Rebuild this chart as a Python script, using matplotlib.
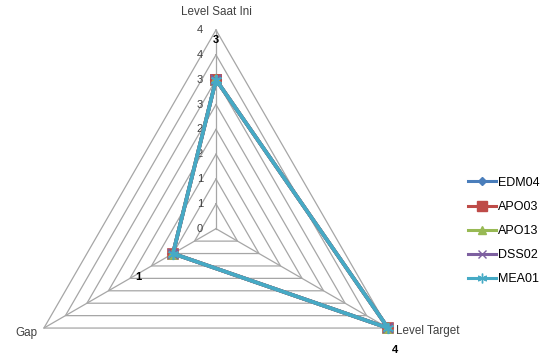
import numpy as np
import matplotlib
matplotlib.use("Agg")
import matplotlib.pyplot as plt
from matplotlib.lines import Line2D

plt.rcParams['font.family'] = ['Liberation Sans', 'DejaVu Sans']

# Radar axes and values
axes_labels = ["Level Saat Ini", "Level Target", "Gap"]
series_names = ["EDM04", "APO03", "APO13", "DSS02", "MEA01"]
edm04 = [3, 4, 1]
apo03 = [3, 4, 1]
apo13 = [3, 4, 1]
dss02 = [3, 4, 1]
mea01 = [3, 4, 1]
ring_levels = [0.5, 1.0, 1.5, 2.0, 2.5, 3.0, 3.5, 4.0]
tick_values = [0, 0.5, 1.0, 1.5, 2.0, 2.5, 3.0, 3.5, 4.0]
tick_labels = ["0", "1", "1", "2", "2", "3", "3", "4", "4"]

colors = ["#4A7EBB", "#BE4B48", "#98B954", "#7D60A0", "#46AAC5"]
markers = ["D", "s", "^", "x", (6, 2, 0)]
chart_ms = [5, 7, 7, 7, 8]
legend_ms = [4.5, 6.5, 6, 6, 7]

W, H = 546, 358
fig = plt.figure(figsize=(W / 100, H / 100), dpi=100)
cx, cy, R = 216.0, 228.7, 198.7
ax = fig.add_axes([(cx - R) / W, (H - cy - R) / H, 2 * R / W, 2 * R / H],
                  projection="polar")
ax.set_theta_offset(np.pi / 2)
ax.set_theta_direction(-1)
ax.set_ylim(0, 4)
ax.grid(False)
ax.spines['polar'].set_visible(False)
ax.set_xticks([])
ax.set_yticks([])
ax.patch.set_alpha(0)

theta = np.linspace(0, 2 * np.pi, len(axes_labels), endpoint=False)
closed_t = np.append(theta, theta[0])

grid_col = "#A6A6A6"
for lvl in ring_levels:
    ax.plot(closed_t, [lvl] * len(closed_t), color=grid_col, lw=0.9, zorder=1,
            clip_on=False)
for t in theta:
    ax.plot([t, t], [0, 4], color=grid_col, lw=0.9, zorder=1, clip_on=False)

# Value scale along the top spoke
for v, lab in zip(tick_values, tick_labels):
    ax.annotate(lab, xy=(0, v), xytext=(-13, 0), textcoords="offset pixels",
                ha="right", va="center", fontsize=8, color="#404040")

# Category labels
ax.annotate(axes_labels[0], xy=(theta[0], 4), xytext=(0, 18),
            textcoords="offset pixels", ha="center", va="center",
            fontsize=8.4, color="#404040")
ax.annotate(axes_labels[1], xy=(theta[1], 4), xytext=(8, -3),
            textcoords="offset pixels", ha="left", va="center",
            fontsize=8.4, color="#404040")
ax.annotate(axes_labels[2], xy=(theta[2], 4), xytext=(-7, -5),
            textcoords="offset pixels", ha="right", va="center",
            fontsize=8.4, color="#404040")

all_series = [edm04, apo03, apo13, dss02, mea01]
handles = []
for name, vals, c, m, ms, lms in zip(series_names, all_series, colors,
                                     markers, chart_ms, legend_ms):
    v = np.append(vals, vals[0])
    ax.plot(closed_t, v, color=c, lw=2.6, marker=m, markersize=ms,
            markeredgecolor=c, markerfacecolor=c, markeredgewidth=1.2,
            zorder=3, clip_on=False)
    handles.append(Line2D([], [], color=c, lw=2.2, marker=m, markersize=lms,
                          markeredgecolor=c, markerfacecolor=c,
                          markeredgewidth=1.0))

# Data labels of the last series
last = all_series[-1]
offsets = [(0, 40), (7, -22), (-35, -23)]
for t, v, off in zip(theta, last, offsets):
    ax.annotate(f"{v:g}", xy=(t, v), xytext=off, textcoords="offset pixels",
                ha="center", va="center", fontsize=8, fontweight="bold",
                color="black")

fig.legend(handles, series_names, loc="center left",
           bbox_to_anchor=(468 / W, 1 - 231 / H), frameon=False,
           fontsize=9, handlelength=2.25, handletextpad=0.15,
           labelspacing=0.97, borderaxespad=0, borderpad=0)

fig.savefig("out.png", dpi=100)
